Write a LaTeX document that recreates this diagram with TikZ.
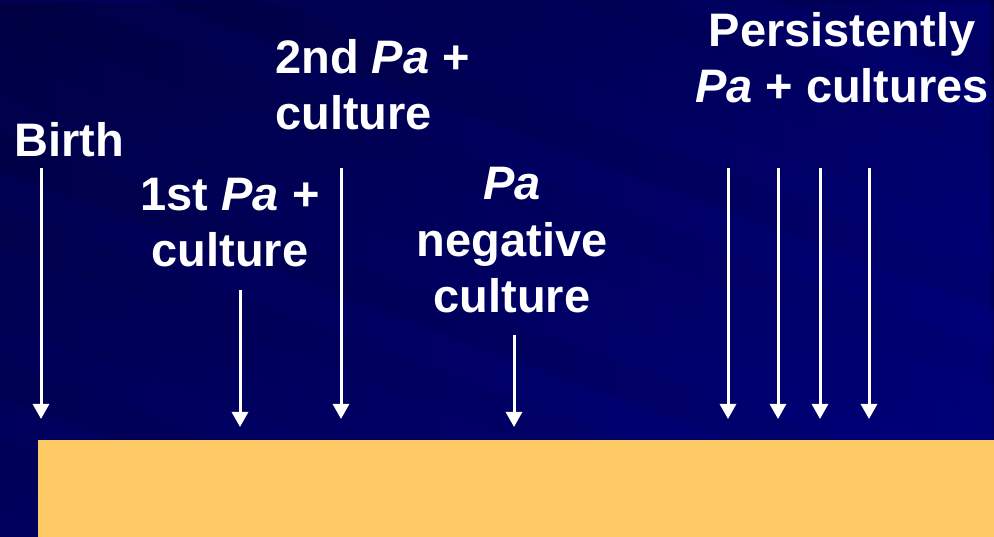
\documentclass[tikz,border=0pt]{standalone}
\usepackage{fontspec}
\setmainfont{Liberation Sans}
\usetikzlibrary{arrows.meta,fadings}
\definecolor{barcol}{RGB}{253,202,102}
\definecolor{brightblue}{RGB}{0,0,150}
\tikzset{
  lbl/.style={text=white, font=\fontsize{47}{56.5}\selectfont\bfseries, align=center, inner sep=0pt, anchor=base},
  darr/.style={draw=white, line width=3pt, -{Triangle[width=16pt,length=15pt]}}
}
\begin{document}
\begin{tikzpicture}[x=1pt,y=-1pt]
\useasboundingbox (0,0) rectangle (994,537);
% background: diagonal bands
\begin{scope}
\clip (0,0) rectangle (994,537);
\fill[black!100!blue] (0,0) rectangle (994,537);
\foreach \k in {0,...,25} {
  \pgfmathsetmacro{\yy}{-400+\k*38}
  \pgfmathtruncatemacro{\vv}{74+\k*2.5+6*mod(\k,2)-3*mod(\k,3)}
  \definecolor{bandc}{RGB}{0,0,\vv}
  \fill[bandc] (0,\yy) -- (994,\yy+368) -- (994,\yy+408) -- (0,\yy+40) -- cycle;
}
\fill[brightblue, opacity=0.4, path fading=west] (0,0) rectangle (994,537);
\fill[black, opacity=0.3, path fading=east] (0,0) rectangle (994,537);
\end{scope}
% bar
\fill[barcol] (38,440) rectangle (994,537);
% labels
\node[lbl] (birth) at (69,157) {Birth};
\node[lbl] (first) at (230,267) {1st \textit{Pa} +\\culture};
\node[lbl, align=left, anchor=base west] (second) at (275,130) {2nd \textit{Pa} +\\culture};
\node[lbl] (neg) at (512,313) {\textit{Pa}\\negative\\culture};
\node[lbl] (pers) at (842,103) {Persistently\\\textit{Pa} + cultures};
% arrow coordinates
\coordinate (a1s) at (41,168);  \coordinate (a1e) at (41,419);
\coordinate (a2s) at (240,290); \coordinate (a2e) at (240,427);
\coordinate (a3s) at (341,168); \coordinate (a3e) at (341,419);
\coordinate (a4s) at (514,335); \coordinate (a4e) at (514,427);
\coordinate (a5s) at (728,168); \coordinate (a5e) at (728,419);
\coordinate (a6s) at (778,168); \coordinate (a6e) at (778,419);
\coordinate (a7s) at (820,168); \coordinate (a7e) at (820,419);
\coordinate (a8s) at (869,168); \coordinate (a8e) at (869,419);
\foreach \i in {1,...,8} { \draw[darr] (a\i s) -- (a\i e); }
\end{tikzpicture}
\end{document}
